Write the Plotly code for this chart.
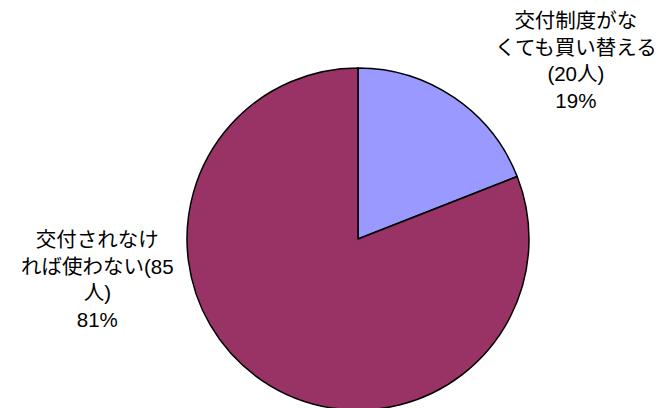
import plotly.graph_objects as go

# 回答の内訳
labels = ["交付制度がな<br>くても買い替える<br>(20人)", "交付されなけ<br>れば使わない(85<br>人)"]
values = [20, 85]
colors = ["#9999FF", "#993366"]

W, H = 663, 408
OFF = 8  # body margin of the html page
total = sum(values)
pcts = [round(v / total * 100) for v in values]


def px_x(x):
    return (x - OFF) / W


def px_y(y):
    return 1 - (y - OFF) / H


cx, cy, r = 358, 239, 171

fig = go.Figure(go.Pie(
    labels=labels,
    values=values,
    sort=False,
    direction="clockwise",
    rotation=0,
    textinfo="none",
    hoverinfo="label+percent",
    marker=dict(colors=colors, line=dict(color="black", width=1.5)),
    domain=dict(x=[px_x(cx - r), px_x(cx + r)], y=[px_y(cy + r), px_y(cy - r)]),
    showlegend=False,
))

# ラベル位置（px）
label_pos = [(576, 61), (97, 279)]
for lab, p, (px, py) in zip(labels, pcts, label_pos):
    fig.add_annotation(
        x=px_x(px), y=px_y(py), xref="paper", yref="paper",
        text=f"{lab}<br>{p}%", showarrow=False,
        xanchor="center", yanchor="middle", align="center",
        font=dict(size=20.5, color="black"),
    )

fig.update_layout(
    width=W, height=H,
    margin=dict(l=0, r=0, t=0, b=0),
    paper_bgcolor="white",
    font=dict(family="Liberation Sans, Noto Sans CJK JP, sans-serif"),
)

fig.write_html("out.html")
